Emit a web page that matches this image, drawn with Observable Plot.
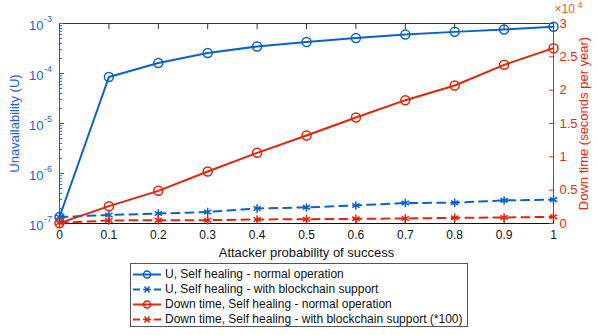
<!DOCTYPE html>
<html>
<head>
<meta charset="utf-8">
<script src="https://cdn.jsdelivr.net/npm/d3@7"></script>
<script src="https://cdn.jsdelivr.net/npm/@observablehq/plot@0.6"></script>
<style>
  body { margin: 0; background: #fff; font-family: "Liberation Sans", Arial, sans-serif; }
  #chart { position: relative; width: 598px; height: 335px; }
  #legend { position: absolute; left: 130px; top: 263px; width: 338px; height: 64px; border: 1px solid #555; background: #fff; box-sizing: border-box; }
  .row { position: absolute; left: 0; height: 15px; font-size: 12px; line-height: 15px; color: #111; white-space: nowrap; }
  .row svg { position: absolute; left: 1px; top: 0; }
  .row span { position: absolute; left: 34px; top: 0; }
</style>
</head>
<body>
<div id="chart"></div>
<script>
// ---- data ----
const attackerP = [0, 0.1, 0.2, 0.3, 0.4, 0.5, 0.6, 0.7, 0.8, 0.9, 1];
const uNormal = [1.35e-7, 8.5e-5, 1.62e-4, 2.57e-4, 3.47e-4, 4.25e-4, 5.1e-4, 6.0e-4, 6.8e-4, 7.6e-4, 8.6e-4];
const uBlockchain = [1.35e-7, 1.48e-7, 1.58e-7, 1.7e-7, 2.0e-7, 2.1e-7, 2.3e-7, 2.57e-7, 2.6e-7, 2.9e-7, 3.0e-7];
const downNormal = [50, 2600, 4900, 7800, 10600, 13200, 15900, 18500, 20700, 23800, 26300];      // seconds per year
const downBlockchain = [100, 450, 500, 500, 600, 650, 700, 750, 850, 900, 1000];                  // (*100)
const xTicks = [0, 0.1, 0.2, 0.3, 0.4, 0.5, 0.6, 0.7, 0.8, 0.9, 1];
const uExponents = [-7, -6, -5, -4, -3];
const downTicks = [0, 0.5, 1, 1.5, 2, 2.5, 3]; // x 10^4
const legendLabels = [
  "U, Self healing - normal operation",
  "U, Self healing - with blockchain support",
  "Down time, Self healing - normal operation",
  "Down time, Self healing -  with blockchain support (*100)"
];

const BLUE = "#0a62c4", BLUE_T = "#1a5fd4", RED = "#e0250c", RED_T = "#e8280e", ORANGE = "#e0601a";

// y scale is linear in log10(U); right axis (down time, 0..3e4 linear) mapped onto it
const toY = d => -7 + 4 * d / 30000;

const rows = attackerP.map((x, i) => ({
  x, un: Math.log10(uNormal[i]), ub: Math.log10(uBlockchain[i]),
  dn: toY(downNormal[i]), db: toY(downBlockchain[i])
}));

const minor = [];
for (let e = -7; e < -3; e++) for (let k = 2; k <= 9; k++) minor.push(e + Math.log10(k));
const rightTickPos = downTicks.map(t => toY(t * 1e4));

const plot = Plot.plot({
  width: 598, height: 262,
  marginLeft: 59, marginRight: 45, marginTop: 23, marginBottom: 39,
  style: {fontFamily: "Liberation Sans, Arial, sans-serif", fontSize: "12px", background: "transparent"},
  x: {domain: [0, 1]},
  y: {domain: [-7, -3]},
  marks: [
    Plot.ruleY([-3], {stroke: "#333", strokeWidth: 1}),
    Plot.ruleY([-7], {stroke: "#111", strokeWidth: 1}),
    Plot.ruleX([0], {stroke: BLUE_T, strokeWidth: 1}),
    Plot.ruleX([1], {stroke: RED_T, strokeWidth: 1}),
    // x axis labels + inward ticks
    Plot.axisX({ticks: xTicks, tickSize: 0, tickPadding: 7, tickFormat: d => String(d), label: null, color: "#111", fontSize: 12}),
    Plot.axisX({ticks: xTicks, tickSize: -5, tickFormat: () => "", label: null, stroke: "#111"}),
    Plot.axisX({anchor: "top", ticks: xTicks, tickSize: -5, tickFormat: () => "", label: null, stroke: "#333"}),
    // left axis (10 with raised exponent)
    Plot.axisY({ticks: uExponents, tickSize: -5, tickFormat: () => "", label: null, stroke: BLUE_T}),
    Plot.axisY({ticks: minor, tickSize: -3, tickFormat: () => "", label: null, stroke: BLUE_T}),
    Plot.text(uExponents, {y: d => d, frameAnchor: "left", dx: -16, dy: 2, textAnchor: "end", lineAnchor: "middle", text: () => "10", fill: BLUE_T, fontSize: 13}),
    Plot.text(uExponents, {y: d => d, frameAnchor: "left", dx: -15.5, dy: -4, textAnchor: "start", lineAnchor: "middle", text: d => String(d), fill: BLUE_T, fontSize: 9}),
    // right axis
    Plot.axisY({anchor: "right", ticks: rightTickPos, tickSize: 0, tickPadding: 6,
      tickFormat: (v, i) => String(downTicks[i]),
      label: null, color: RED_T, fontSize: 13}),
    Plot.axisY({anchor: "right", ticks: rightTickPos, tickSize: -5, tickFormat: () => "", label: null, stroke: RED_T}),
    // axis titles
    Plot.text(["Unavailability (U)"], {frameAnchor: "left", rotate: -90, dx: -45, textAnchor: "middle", lineAnchor: "middle", fill: BLUE_T, fontSize: 13}),
    Plot.text(["Down time (seconds per year)"], {frameAnchor: "right", rotate: -90, dx: 30, textAnchor: "middle", lineAnchor: "middle", fill: RED_T, fontSize: 13}),
    Plot.text(["Attacker probability of success"], {frameAnchor: "bottom", dy: 29, lineAnchor: "middle", fill: "#111", fontSize: 13}),
    Plot.text(["×10"], {frameAnchor: "top-right", dx: 1, dy: -14, textAnchor: "start", lineAnchor: "middle", fill: ORANGE, fontSize: 12}),
    Plot.text(["4"], {frameAnchor: "top-right", dx: 24, dy: -18.5, textAnchor: "start", lineAnchor: "middle", fill: ORANGE, fontSize: 9}),
    // series
    Plot.line(rows, {x: "x", y: "un", stroke: BLUE, strokeWidth: 2}),
    Plot.dot(rows, {x: "x", y: "un", stroke: BLUE, r: 4.5, strokeWidth: 1.5, fill: "none"}),
    Plot.line(rows, {x: "x", y: "ub", stroke: BLUE, strokeWidth: 2, strokeDasharray: "8,6"}),
    Plot.dot(rows, {x: "x", y: "ub", stroke: BLUE, symbol: "asterisk", r: 4, strokeWidth: 1.5}),
    Plot.line(rows, {x: "x", y: "dn", stroke: RED, strokeWidth: 2}),
    Plot.dot(rows, {x: "x", y: "dn", stroke: RED, r: 4.5, strokeWidth: 1.5, fill: "none"}),
    Plot.line(rows, {x: "x", y: "db", stroke: RED, strokeWidth: 2, strokeDasharray: "8,6"}),
    Plot.dot(rows, {x: "x", y: "db", stroke: RED, symbol: "asterisk", r: 4, strokeWidth: 1.5})
  ]
});
const chart = document.getElementById("chart");
plot.style.position = "absolute"; plot.style.left = "0"; plot.style.top = "0";
chart.appendChild(plot);

// legend
const legend = document.createElement("div");
legend.id = "legend";
const styles = [
  {c: BLUE, dash: false, sym: "o"}, {c: BLUE, dash: true, sym: "*"},
  {c: RED, dash: false, sym: "o"}, {c: RED, dash: true, sym: "*"}
];
legendLabels.forEach((lab, i) => {
  const s = styles[i];
  const row = document.createElement("div");
  row.className = "row";
  row.style.top = (3 + i * 15) + "px";
  const line = s.dash
    ? `<line x1="1" x2="8" y1="7.5" y2="7.5" stroke="${s.c}" stroke-width="2"/><line x1="22" x2="29" y1="7.5" y2="7.5" stroke="${s.c}" stroke-width="2"/>`
    : `<line x1="1" x2="29" y1="7.5" y2="7.5" stroke="${s.c}" stroke-width="2"/>`;
  const mark = s.sym === "o"
    ? `<circle cx="15" cy="7.5" r="3.5" fill="none" stroke="${s.c}" stroke-width="1.5"/>`
    : `<path d="M11 7.5h8M12.5 4.5l5 6M12.5 10.5l5-6" stroke="${s.c}" stroke-width="1.5"/>`;
  row.innerHTML = `<svg width="32" height="15">${line}${mark}</svg><span>${lab}</span>`;
  legend.appendChild(row);
});
chart.appendChild(legend);
</script>
</body>
</html>
